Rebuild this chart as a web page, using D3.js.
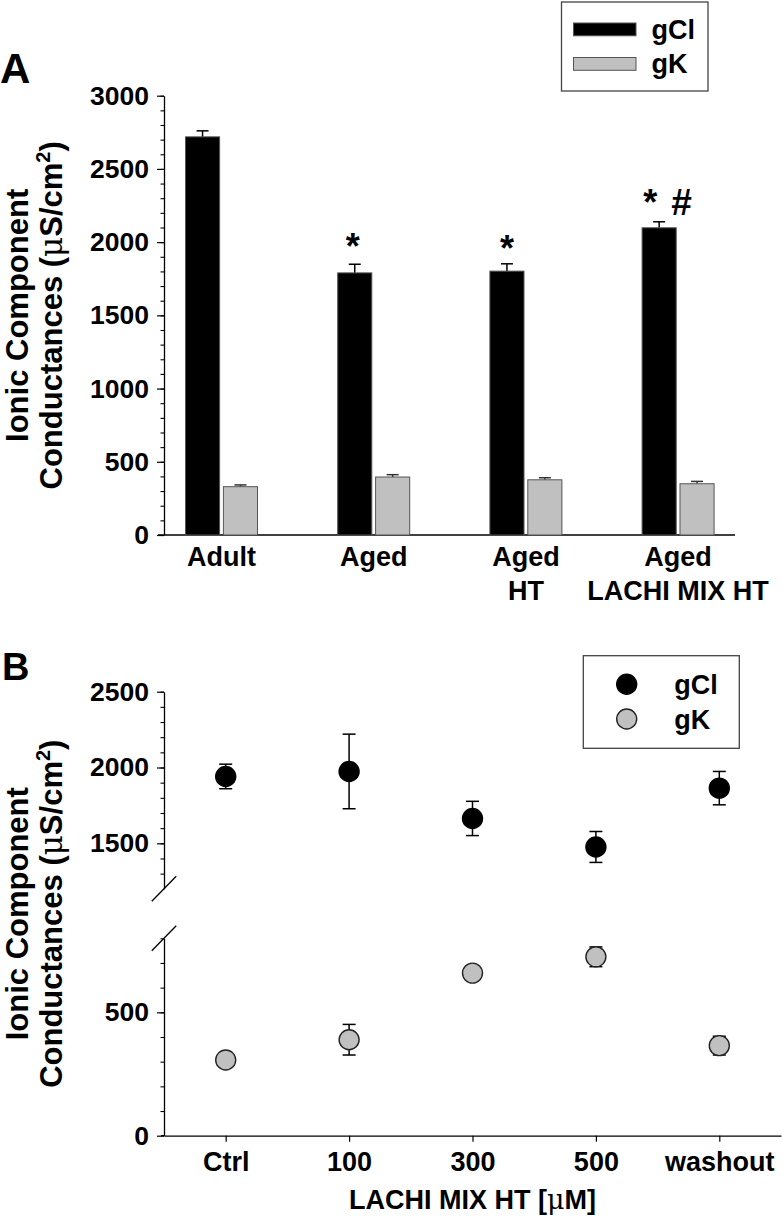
<!DOCTYPE html>
<html><head><meta charset="utf-8">
<script src="https://cdn.jsdelivr.net/npm/d3@7"></script>
<style>
body{margin:0;background:#fff}
svg{display:block}
text{font-family:"Liberation Sans",Arial,Helvetica,sans-serif;font-weight:bold;fill:#000}
</style>
</head><body>
<svg id="c" width="783" height="1218"></svg>
<script>
// ---------- DATA ----------
// Panel A
const groupsA = [["Adult"], ["Aged"], ["Aged", "HT"], ["Aged", "LACHI MIX HT"]];
const seriesA = ["gCl", "gK"];
const gClA = [2719, 1790, 1802, 2098];
const gClAErr = [41, 59, 50, 41];
const gKA = [330, 396, 377, 350];
const gKAErr = [12, 16, 14, 16];
const marksA = [[], ["*"], ["*"], ["*", "#"]];
const ticksA = [0, 500, 1000, 1500, 2000, 2500, 3000];
// Panel B
const concB = ["Ctrl", "100", "300", "500", "washout"];
const gClB = [1941, 1974, 1664, 1476, 1864];
const gClBErr = [81, 246, 113, 102, 110];
const gKB = [307, 389, 659, 725, 365];
const gKBErr = [25, 62, 25, 40, 38];
const ticksBUpper = [1500, 2000, 2500];
const ticksBLower = [0, 500];

// ---------- STYLE ----------
const GRAY = "#c0c0c0";
const FS = 27, TICKFS = 26.5, TITLEFS = 31;
const fmt = d3.format("d");

const svg = d3.select("#c");

function styleAxis(g, fs) {
  g.attr("font-family", null).attr("font-size", null);
  g.selectAll("path.domain").attr("stroke", "#000").attr("stroke-width", 1.3);
  g.selectAll(".tick line").attr("stroke", "#000").attr("stroke-width", 1.2);
  g.selectAll(".tick text").style("font-size", fs + "px").attr("fill", "#000");
}

function yTitle(cx, cy) {
  const g = svg.append("g").attr("transform", `translate(${cx},${cy}) rotate(-90)`);
  g.append("text").attr("text-anchor", "middle").style("font-size", TITLEFS + "px").text("Ionic Component");
  const t = g.append("text").attr("text-anchor", "middle").attr("y", 34).style("font-size", TITLEFS + "px");
  t.append("tspan").text("Conductances (");
  t.append("tspan").style("font-weight", "normal").style("font-family", "DejaVu Serif, serif").text("\u03bc");
  t.append("tspan").text("S/cm");
  t.append("tspan").attr("dy", -12).style("font-size", "20px").text("2");
  t.append("tspan").attr("dy", 12).text(")");
}

// ================= PANEL A =================
const yA = d3.scaleLinear([0, 3000], [535, 95.7]);
const xA = d3.scaleBand(d3.range(groupsA.length), [145.4, 754.2]);
const xInner = d3.scaleBand(seriesA, [-36, 36]).paddingInner(0.1);
const cA = i => xA(i) + xA.bandwidth() / 2;

svg.append("text").attr("x", 0).attr("y", 83).style("font-size", "42px").text("A");

// minor ticks
svg.append("g").attr("transform", "translate(164,0)")
  .call(d3.axisLeft(yA).tickValues(d3.range(0, 3001, 100)).tickSize(3.5).tickFormat(""))
  .call(g => { g.select(".domain").remove(); g.selectAll("line").attr("stroke", "#000").attr("stroke-width", 1.1); });
// major axis
svg.append("g").attr("transform", "translate(164,0)")
  .call(d3.axisLeft(yA).tickValues(ticksA).tickFormat(fmt).tickSize(7).tickSizeOuter(0).tickPadding(8))
  .call(g => styleAxis(g, TICKFS));

// x axis line
svg.append("line").attr("x1", 158).attr("x2", 735).attr("y1", yA(0)).attr("y2", yA(0))
  .attr("stroke", "#000").attr("stroke-width", 1.3);

// bars
const barData = [];
groupsA.forEach((g, i) => {
  barData.push({i, s: "gCl", v: gClA[i], e: gClAErr[i]});
  barData.push({i, s: "gK", v: gKA[i], e: gKAErr[i]});
});
// error bars (up only)
const eb = svg.append("g");
barData.forEach(d => {
  const x = cA(d.i) + xInner(d.s) + xInner.bandwidth() / 2;
  const col = d.s === "gCl" ? "#000" : "#333";
  eb.append("line").attr("x1", x).attr("x2", x).attr("y1", yA(d.v)).attr("y2", yA(d.v + d.e))
    .attr("stroke", col).attr("stroke-width", 1.5);
  eb.append("line").attr("x1", x - 6).attr("x2", x + 6).attr("y1", yA(d.v + d.e)).attr("y2", yA(d.v + d.e))
    .attr("stroke", col).attr("stroke-width", 1.5);
});
svg.append("g").selectAll("rect").data(barData).join("rect")
  .attr("x", d => cA(d.i) + xInner(d.s))
  .attr("width", xInner.bandwidth())
  .attr("y", d => yA(d.v))
  .attr("height", d => yA(0) - yA(d.v))
  .attr("fill", d => d.s === "gCl" ? "#000" : GRAY)
  .attr("stroke", "#555")
  .attr("stroke-width", 1);

// significance marks
const markOffsets = {1: [[-2, 26]], 2: [[0, 24]], 3: [[-9, 28], [22, 20]]};
marksA.forEach((m, i) => {
  m.forEach((sym, k) => {
    const [dx, dy] = markOffsets[i][k];
    const bx = cA(i) + xInner("gCl") + xInner.bandwidth() / 2;
    const cy = yA(gClA[i] + gClAErr[i]) - dy;
    if (sym === "*") {
      svg.append("text").attr("x", bx + dx).attr("y", cy + 0.585 * 36).attr("text-anchor", "middle")
        .style("font-size", "36px").text(sym);
    } else {
      svg.append("text").attr("x", bx + dx).attr("y", cy + 0.355 * 37).attr("text-anchor", "middle")
        .style("font-size", "37px").style("font-style", "italic").text(sym);
    }
  });
});

// category labels
groupsA.forEach((lines, i) => {
  lines.forEach((ln, k) => {
    svg.append("text").attr("x", cA(i)).attr("y", 566 + k * 34).attr("text-anchor", "middle")
      .style("font-size", FS + "px").text(ln);
  });
});

yTitle(28, (yA(0) + yA(3000)) / 2);

// legend A
const legA = svg.append("g");
legA.append("rect").attr("x", 561.5).attr("y", 2).attr("width", 146.5).attr("height", 89)
  .attr("fill", "#fff").attr("stroke", "#444").attr("stroke-width", 1.3);
seriesA.forEach((s, k) => {
  legA.append("rect").attr("x", 573.5).attr("y", 23 + k * 34.5).attr("width", 62.5).attr("height", 12.8)
    .attr("fill", s === "gCl" ? "#000" : GRAY).attr("stroke", "#555").attr("stroke-width", 1);
  legA.append("text").attr("x", 651.5).attr("y", 39 + k * 34).style("font-size", FS + "px").text(s);
});

// ================= PANEL B =================
const yBU = d3.scaleLinear([1200, 2500], [888.8, 691.7]);
const yBL = d3.scaleLinear([0, 800], [1135.7, 938.3]);
const xB = d3.scalePoint(concB, [164, 781]).padding(0.5);

svg.append("text").attr("x", 2).attr("y", 680).style("font-size", "38px").text("B");

// upper axis
svg.append("g").attr("transform", "translate(164,0)")
  .call(d3.axisLeft(yBU).tickValues(d3.range(1300, 2501, 100)).tickSize(3.5).tickFormat(""))
  .call(g => { g.select(".domain").remove(); g.selectAll("line").attr("stroke", "#000").attr("stroke-width", 1.1); });
svg.append("g").attr("transform", "translate(164,0)")
  .call(d3.axisLeft(yBU).tickValues(ticksBUpper).tickFormat(fmt).tickSize(7).tickSizeOuter(0).tickPadding(8))
  .call(g => styleAxis(g, TICKFS));
// lower axis
svg.append("g").attr("transform", "translate(164,0)")
  .call(d3.axisLeft(yBL).tickValues(d3.range(100, 801, 100)).tickSize(3.5).tickFormat(""))
  .call(g => { g.select(".domain").remove(); g.selectAll("line").attr("stroke", "#000").attr("stroke-width", 1.1); });
svg.append("g").attr("transform", "translate(164,0)")
  .call(d3.axisLeft(yBL).tickValues(ticksBLower).tickFormat(fmt).tickSize(7).tickSizeOuter(0).tickPadding(8))
  .call(g => styleAxis(g, TICKFS));

// break slashes
[yBU(1200), yBL(800)].forEach(y => {
  svg.append("line").attr("x1", 164 - 12.2).attr("y1", y + 12.5).attr("x2", 164 + 12.2).attr("y2", y - 12.5)
    .attr("stroke", "#000").attr("stroke-width", 1.3);
});

// x axis
svg.append("line").attr("x1", 161).attr("x2", 164).attr("y1", yBL(0)).attr("y2", yBL(0))
  .attr("stroke", "#000").attr("stroke-width", 1.3);
svg.append("g").attr("transform", `translate(0,${yBL(0)})`)
  .call(d3.axisBottom(xB).tickSize(6).tickSizeOuter(0).tickPadding(10))
  .call(g => styleAxis(g, FS));

svg.append("text").attr("x", 472.5).attr("y", 1209).attr("text-anchor", "middle").style("font-size", FS + "px")
  .call(t => {
    t.append("tspan").text("LACHI MIX HT [");
    t.append("tspan").style("font-weight", "normal").style("font-family", "DejaVu Serif, serif").text("\u03bc");
    t.append("tspan").text("M]");
  });

yTitle(28, (yBL(0) + yBU(2500)) / 2);

// points with error bars
function drawSeries(vals, errs, scale, fill, stroke) {
  const g = svg.append("g");
  vals.forEach((v, i) => {
    const x = xB(concB[i]);
    const y1 = scale(v - errs[i]), y2 = scale(v + errs[i]);
    g.append("line").attr("x1", x).attr("x2", x).attr("y1", y1).attr("y2", y2).attr("stroke", "#000").attr("stroke-width", 1.5);
    [y1, y2].forEach(yy => g.append("line").attr("x1", x - 6.5).attr("x2", x + 6.5).attr("y1", yy).attr("y2", yy)
      .attr("stroke", "#000").attr("stroke-width", 1.5));
  });
  g.selectAll("circle").data(vals).join("circle")
    .attr("cx", (v, i) => xB(concB[i])).attr("cy", v => scale(v)).attr("r", 10)
    .attr("fill", fill).attr("stroke", stroke).attr("stroke-width", 1.4);
}
drawSeries(gClB, gClBErr, yBU, "#000", "#000");
drawSeries(gKB, gKBErr, yBL, GRAY, "#222");

// legend B
const legB = svg.append("g");
legB.append("rect").attr("x", 583.3).attr("y", 655.7).attr("width", 156).attr("height", 92.6)
  .attr("fill", "#fff").attr("stroke", "#444").attr("stroke-width", 1.3);
[["gCl", "#000", "#000"], ["gK", GRAY, "#222"]].forEach(([s, f, st], k) => {
  legB.append("circle").attr("cx", 626.7).attr("cy", 684.3 + k * 34.7).attr("r", 10)
    .attr("fill", f).attr("stroke", st).attr("stroke-width", 1.4);
  legB.append("text").attr("x", 674.3).attr("y", 694.3 + k * 34.7).style("font-size", FS + "px").text(s);
});
</script>
</body></html>
